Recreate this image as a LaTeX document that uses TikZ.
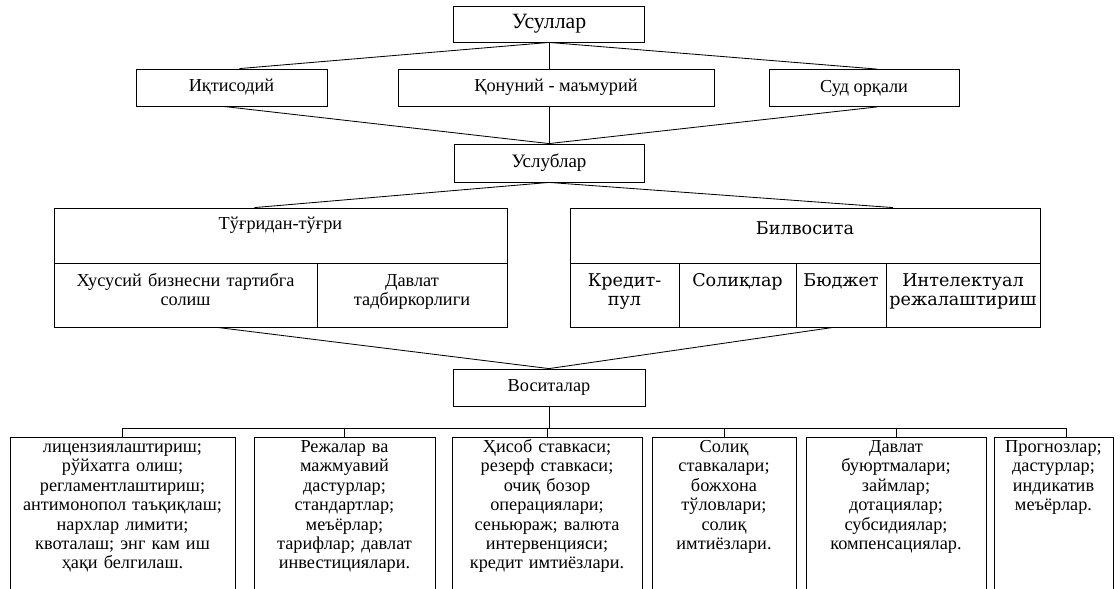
\documentclass[tikz,border=0pt]{standalone}
\usepackage{fontspec}
\setmainfont{Liberation Serif}
\newfontfamily\widefont{DejaVu Serif}
\usetikzlibrary{calc}
\tikzstyle{box}=[draw, line width=0.6pt, inner sep=0pt, font=\fontsize{13}{13.8}\selectfont]
\tikzstyle{plainbox}=[box, minimum height=0.925cm]
\tikzstyle{headbox}=[box, text height=0.525cm, text depth=0.85cm]
\tikzstyle{cellbox}=[box, align=center, text height=0.575cm, text depth=1.025cm]
\tikzstyle{widebox}=[cellbox, font=\widefont\fontsize{12.5}{13.8}\selectfont]
\tikzstyle{listbox}=[box, align=center, anchor=north, text height=0.375cm, text depth=4cm]
\tikzstyle{link}=[line width=0.6pt]

\begin{document}
\begin{tikzpicture}[x=0.025cm, y=-0.025cm]
\useasboundingbox (0,0) rectangle (1120,588);
\clip (0,0) rectangle (1120,588);
% methods
\node[plainbox, minimum width=4.775cm, minimum height=0.9cm, font=\fontsize{15.5}{16}\selectfont] (usullar) at (549,24) {Усуллар};
\node[plainbox, minimum width=4.775cm] (iqtisodiy) at (231.5,87.5) {Иқтисодий};
\node[plainbox, minimum width=7.9cm] (qonuniy) at (556,87.5) {Қонуний - маъмурий};
\node[plainbox, minimum width=4.75cm] (sud) at (864,88) {Суд орқали};
\node[plainbox, minimum width=4.75cm, minimum height=0.95cm, font=\fontsize{13.5}{14}\selectfont] (uslublar) at (549,163) {Услублар};
% direct
\node[headbox, minimum width=11.325cm] (tugri) at (280.5,235.5) {Тўғридан-тўғри};
\node[cellbox, text width=6.575cm] (xususiy) at (185.5,295) {Хусусий бизнесни тартибга\\солиш};
\node[cellbox, text width=4.75cm] (davlat) at (412,295) {Давлат\\тадбиркорлиги};
% indirect
\node[headbox, minimum width=11.75cm, text height=0.65cm, text depth=0.725cm,
      font=\widefont\fontsize{12.5}{13.8}\selectfont] (bil) at (805,235.5) {Билвосита};
\node[widebox, text width=2.725cm] (kredit) at (624.5,295) {Кредит-\\пул};
\node[widebox, text width=2.925cm] (soliq) at (737.5,295) {Солиқлар};
\node[widebox, text width=2.25cm] (byudjet) at (841,295) {Бюджет};
\node[widebox, text width=3.85cm] (intel) at (963,295) {Интелектуал\\режалаштириш};
% tools
\node[plainbox, minimum width=4.8cm] (vositalar) at (549,387.5) {Воситалар};
\node[listbox, text width=5.625cm] (b1) at (122.5,437) {лицензиялаштириш;\\рўйхатга олиш;\\регламентлаштириш;\\антимонопол таъқиқлаш;\\нархлар лимити;\\квоталаш; энг кам иш\\ҳақи белгилаш.};
\node[listbox, text width=4.525cm] (b2) at (344.5,437) {Режалар ва\\мажмуавий\\дастурлар;\\стандартлар;\\меъёрлар;\\тарифлар; давлат\\инвестициялари.};
\node[listbox, text width=4.75cm] (b3) at (547,437) {Ҳисоб ставкаси;\\резерф ставкаси;\\очиқ бозор\\операциялари;\\сеньюраж; валюта\\интервенцияси;\\кредит имтиёзлари.};
\node[listbox, text width=3.6cm] (b4) at (724,437) {Солиқ\\ставкалари;\\божхона\\тўловлари;\\солиқ\\имтиёзлари.};
\node[listbox, text width=4.5cm] (b5) at (896,437) {Давлат\\буюртмалари;\\займлар;\\дотациялар;\\субсидиялар;\\компенсациялар.};
\node[listbox, text width=2.975cm] (b6) at (1053.5,437) {Прогнозлар;\\дастурлар;\\индикатив\\меъёрлар.};
% links
\draw[link] (usullar.south) -- ($(iqtisodiy.north)+(8,0)$);
\draw[link] (usullar.south) -- ($(sud.north)+(13,0)$);
\draw[link] (usullar.south) -- (usullar.south |- qonuniy.north);
\draw[link] ($(iqtisodiy.south)+(-8,0)$) -- (uslublar.north);
\draw[link] ($(sud.south)+(13,0)$) -- (uslublar.north);
\draw[link] (uslublar.north |- qonuniy.south) -- (uslublar.north);
\draw[link] (uslublar.south) -- ($(tugri.north)+(-26,0)$);
\draw[link] (uslublar.south) -- ($(bil.north)+(88,0)$);
\draw[link] ($(xususiy.south)+(32,0)$) -- (vositalar.north);
\draw[link] ($(byudjet.south)+(-8,0)$) -- (vositalar.north);
\foreach \b in {b1,b2,b3,b4,b5}
  \draw[link] (vositalar.south) -- ++(0,22) -| (\b.north);
\draw[link] (vositalar.south) -- ++(0,22) -| ($(b6.north)+(13,0)$);
\end{tikzpicture}
\end{document}
